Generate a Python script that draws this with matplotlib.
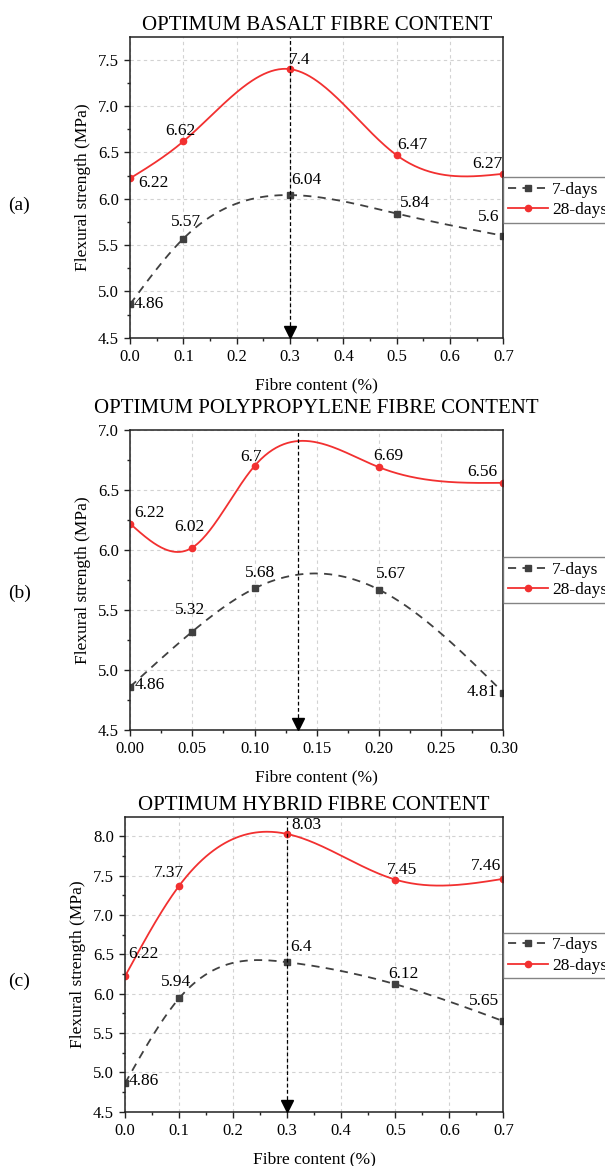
import numpy as np
import matplotlib
matplotlib.use("Agg")
import matplotlib.pyplot as plt
from matplotlib.transforms import offset_copy

plt.rcParams['font.family'] = ['Liberation Serif', 'DejaVu Serif']

# ---- data ----
titles = ['OPTIMUM BASALT FIBRE CONTENT',
          'OPTIMUM POLYPROPYLENE FIBRE CONTENT',
          'OPTIMUM HYBRID FIBRE CONTENT']
panel_tags = ['(a)', '(b)', '(c)']

x_basalt = [0.0, 0.1, 0.3, 0.5, 0.7]
d7_basalt = [4.86, 5.57, 6.04, 5.84, 5.6]
d28_basalt = [6.22, 6.62, 7.4, 6.47, 6.27]

x_pp = [0.0, 0.05, 0.1, 0.2, 0.3]
d7_pp = [4.86, 5.32, 5.68, 5.67, 4.81]
d28_pp = [6.22, 6.02, 6.7, 6.69, 6.56]

x_hybrid = [0.0, 0.1, 0.3, 0.5, 0.7]
d7_hybrid = [4.86, 5.94, 6.4, 6.12, 5.65]
d28_hybrid = [6.22, 7.37, 8.03, 7.45, 7.46]

optimum = [0.3, 0.135, 0.3]

xticks_07 = [0.0, 0.1, 0.2, 0.3, 0.4, 0.5, 0.6, 0.7]
xticks_03 = [0.0, 0.05, 0.10, 0.15, 0.20, 0.25, 0.30]
xticklabels_07 = ['0.0', '0.1', '0.2', '0.3', '0.4', '0.5', '0.6', '0.7']
xticklabels_03 = ['0.00', '0.05', '0.10', '0.15', '0.20', '0.25', '0.30']


def natural_spline(x, y, n=300):
    """smooth curve through the points (natural cubic spline)"""
    x = np.asarray(x, float)
    y = np.asarray(y, float)
    k = len(x)
    h = np.diff(x)
    A = np.zeros((k, k))
    b = np.zeros(k)
    A[0, 0] = 1
    A[-1, -1] = 1
    for i in range(1, k - 1):
        A[i, i - 1] = h[i - 1]
        A[i, i] = 2 * (h[i - 1] + h[i])
        A[i, i + 1] = h[i]
        b[i] = 6 * ((y[i + 1] - y[i]) / h[i] - (y[i] - y[i - 1]) / h[i - 1])
    M = np.linalg.solve(A, b)
    xs = np.linspace(x[0], x[-1], n)
    idx = np.clip(np.searchsorted(x, xs) - 1, 0, k - 2)
    x0, x1 = x[idx], x[idx + 1]
    hh = x1 - x0
    t0 = x1 - xs
    t1 = xs - x0
    ys = (M[idx] * t0 ** 3 / (6 * hh) + M[idx + 1] * t1 ** 3 / (6 * hh)
          + (y[idx] / hh - M[idx] * hh / 6) * t0
          + (y[idx + 1] / hh - M[idx + 1] * hh / 6) * t1)
    return xs, ys


fig = plt.figure(figsize=(6.05, 11.66), dpi=100)

# axes rectangles [left, bottom, width, height] in figure fraction
rects = [[0.2149, 0.7104, 0.6173, 0.2581],
         [0.2149, 0.3739, 0.6173, 0.2573],
         [0.2066, 0.0466, 0.6256, 0.2530]]
ylims = [(4.5, 7.75), (4.5, 7.0), (4.5, 8.25)]
yticks = [np.arange(4.5, 7.51, 0.5), np.arange(4.5, 7.01, 0.5), np.arange(4.5, 8.01, 0.5)]
legend_y = [0.458, 0.50, 0.53]
tag_y = [0.824, 0.491, 0.158]
title_pad = [5, 12, 5]

panels = [
    (x_basalt, d7_basalt, d28_basalt, xticks_07, xticklabels_07),
    (x_pp, d7_pp, d28_pp, xticks_03, xticklabels_03),
    (x_hybrid, d7_hybrid, d28_hybrid, xticks_07, xticklabels_07),
]

# value label offsets (pixels, text centre relative to the point)
off7 = [
    [(19, 0), (3, 17), (16, 15), (18, 11), (-15, 19)],
    [(20, 2), (-2, 22), (5, 15), (12, 16), (-22, 1)],
    [(19, 2), (-3, 16), (14, 15), (8, 10), (-19, 20)],
]
off28 = [
    [(23, -5), (-3, 10), (10, 9), (16, 10), (-16, 10)],
    [(19, 11), (-3, 21), (-4, 9), (9, 11), (-21, 11)],
    [(18, 22), (-10, 13), (19, 9), (7, 10), (-17, 13)],
]

grey = '#404040'
red = '#f23030'
dash = (0, (4.5, 3.5))

for i, (xv, y7, y28, xt, xtl) in enumerate(panels):
    ax = fig.add_axes(rects[i])
    xs, ys = natural_spline(xv, y7)
    ax.plot(xs, ys, color=grey, lw=1.3, ls=dash)
    ax.plot(xv, y7, ls='none', marker='s', ms=4.5, color=grey)
    xs, ys = natural_spline(xv, y28)
    ax.plot(xs, ys, color=red, lw=1.3)
    ax.plot(xv, y28, ls='none', marker='o', ms=4.5, color=red)

    # legend proxies
    h7, = ax.plot([], [], color=grey, ls=dash, marker='s', ms=4.5, lw=1.3, label='7-days')
    h28, = ax.plot([], [], color=red, marker='o', ms=4.5, lw=1.3, label='28-days')

    for j in range(len(xv)):
        ax.annotate(f'{y7[j]:g}', (xv[j], y7[j]), xytext=off7[i][j],
                    textcoords='offset pixels', fontsize=12.5, ha='center', va='center')
        ax.annotate(f'{y28[j]:g}', (xv[j], y28[j]), xytext=off28[i][j],
                    textcoords='offset pixels', fontsize=12.5, ha='center', va='center')

    # optimum: dashed vertical line ending in an arrow head on the x axis
    ax.axvline(optimum[i], color='black', lw=0.9, ls=(0, (3, 2)))
    tr = offset_copy(ax.get_xaxis_transform(), fig=fig, y=4, units='points')
    ax.plot([optimum[i]], [0], marker='v', ms=8, color='black',
            clip_on=False, transform=tr, zorder=5)

    ax.set_xlim(xv[0], xv[-1])
    ax.set_ylim(*ylims[i])
    ax.set_xticks(xt)
    ax.set_xticklabels(xtl)
    ax.set_yticks(yticks[i])
    ax.set_yticklabels([f'{v:.1f}' for v in yticks[i]])
    step = xt[1] - xt[0]
    ax.set_xticks(np.arange(xt[0] + step / 2, xt[-1], step), minor=True)
    ax.set_yticks(np.arange(ylims[i][0] + 0.25, ylims[i][1], 0.5), minor=True)
    ax.tick_params(which='both', direction='out', labelsize=12, top=False, right=False,
                   color='#222222')
    ax.tick_params(which='major', length=4.5, width=1.0)
    ax.tick_params(which='minor', length=2.5, width=1.0)
    ax.grid(True, which='major', ls=(0, (3, 3)), color='#d2d2d2', lw=0.8)
    for s in ax.spines.values():
        s.set_linewidth(1.1)
        s.set_color('#222222')

    ax.set_title(titles[i], fontsize=15, pad=title_pad[i])
    ax.set_xlabel('Fibre content (%)', fontsize=12.5, labelpad=9)
    ax.set_ylabel('Flexural strength (MPa)', fontsize=12.5, labelpad=5)
    ax.legend(handles=[h7, h28], loc='center left', bbox_to_anchor=(1.0, legend_y[i]),
              fontsize=12.5, frameon=True, fancybox=False, edgecolor='#666666',
              handlelength=2.3, borderpad=0.25, labelspacing=0.25, handletextpad=0.25,
              borderaxespad=0.0)
    fig.text(0.014, tag_y[i], panel_tags[i], fontsize=14, va='center')

fig.savefig('out.png', dpi=100)
